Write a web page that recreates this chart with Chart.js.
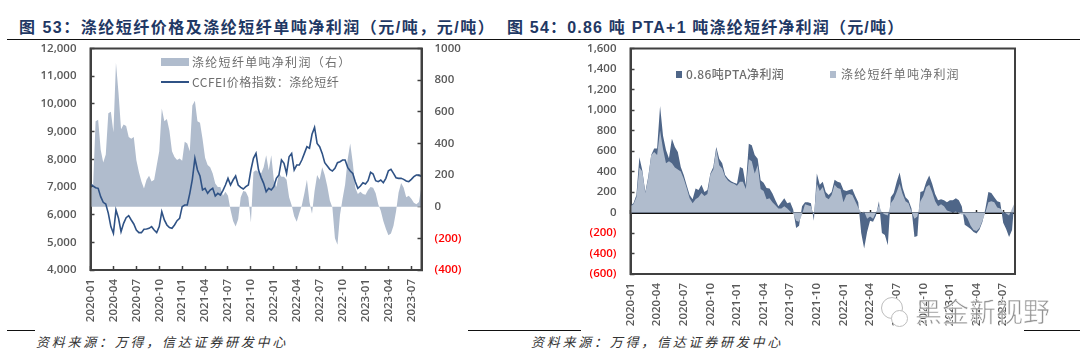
<!DOCTYPE html>
<html lang="zh"><head><meta charset="utf-8">
<script src="https://cdn.jsdelivr.net/npm/chart.js@4/dist/chart.umd.min.js"></script>
<style>
html,body{margin:0;padding:0;background:#fff;width:1080px;height:361px;overflow:hidden}
canvas{position:absolute;top:0}
.t{position:absolute;white-space:nowrap;font-family:"Noto Sans CJK SC","Noto Sans",sans-serif}
.title{top:16px;font-family:"Liberation Sans","Noto Sans CJK SC",sans-serif;font-size:16px;font-weight:700;color:#1f3864;line-height:24px}
.src{top:332px;font-size:13px;font-style:italic;color:#333;letter-spacing:2.75px;line-height:20px}
.leg{font-size:12px;color:#6e6e6e;line-height:16px}
.rule{position:absolute;background:#111;height:1px}
.sw{position:absolute}
.wm{left:915px;top:292px;font-size:27px;line-height:38px;color:#8a8a8a;-webkit-text-stroke:.6px #fff;opacity:.9;letter-spacing:0}
.bub{position:absolute;border:1.5px solid #bdbdbd;border-radius:50%;background:#fff}
</style></head><body>
<div class="t title" style="left:19px;letter-spacing:1.5px">图 53：涤纶短纤价格及涤纶短纤单吨净利润（元/吨，元/吨）</div>
<div class="t title" style="left:507px;letter-spacing:1.2px">图 54：0.86 吨 PTA+1 吨涤纶短纤净利润（元/吨）</div>
<div class="rule" style="left:7px;top:39px;width:1073px"></div>
<div class="rule" style="left:7px;top:330px;width:28px"></div>
<div class="rule" style="left:468px;top:330px;width:113px"></div>
<div class="rule" style="left:1024px;top:330px;width:56px"></div>
<div class="t src" style="left:36px">资料来源：万得，信达证券研发中心</div>
<div class="t src" style="left:531px">资料来源：万得，信达证券研发中心</div>
<canvas id="a" width="500" height="361" style="left:0;width:500px;height:361px"></canvas>
<canvas id="b" width="560" height="361" style="left:500px;width:560px;height:361px"></canvas>
<div class="sw" style="left:161px;top:58px;width:28px;height:8px;background:#b0bccd"></div>
<div class="t leg" style="left:192px;top:54px;letter-spacing:1.3px">涤纶短纤单吨净利润（右）</div>
<div class="sw" style="left:161px;top:81px;width:28px;height:2px;background:#2f5285"></div>
<div class="t leg" style="left:192px;top:74px;letter-spacing:.5px">CCFEI价格指数：涤纶短纤</div>
<div class="sw" style="left:676px;top:71px;width:6px;height:7px;background:#4f6688"></div>
<div class="t leg" style="left:686px;top:66px;font-weight:500;letter-spacing:.4px">0.86吨PTA净利润</div>
<div class="sw" style="left:830px;top:71px;width:6px;height:7px;background:#b0bccd"></div>
<div class="t leg" style="left:841px;top:66px;letter-spacing:1.2px">涤纶短纤单吨净利润</div>
<div class="bub" style="left:881px;top:297px;width:20px;height:20px"></div>
<div class="bub" style="left:891px;top:310px;width:15px;height:15px"></div>
<div class="t wm">黑金新视野</div>
<script>
// ten-day observations, 2020-01 to mid 2023-08
const years = [2020, 2021, 2022, 2023];
const pointsPerMonth = 3;
const tickEvery = 9;
const pointCount = 131;

const fiberProfitLeft = [
120,125,540,550,360,280,330,590,600,470,
910,720,490,520,510,440,430,440,295,220,
160,115,170,195,160,170,260,350,620,540,
555,480,350,315,295,305,290,410,400,350,
640,670,540,530,430,310,263,250,210,147,
125,125,70,95,70,-20,-90,-125,-80,60,
100,95,60,-100,220,230,220,210,250,325,
230,325,170,125,210,190,190,170,60,10,
-60,-95,-40,10,85,170,30,-45,100,200,
170,250,200,130,40,-5,-200,-240,-50,50,
140,300,400,280,120,80,95,80,75,105,
125,120,85,15,-25,-90,-140,-180,-170,-120,
-30,90,150,120,60,70,50,25,15,30,130];

const priceIndex = [
7106,7034,6974,6950,6650,6444,6384,6047,5566,5325,
6168,5867,5385,5686,5890,5963,5807,5662,5446,5350,
5350,5470,5482,5506,5566,5446,5350,5566,6107,5807,
5626,5530,5506,5626,5782,5867,6288,6348,6348,6769,
7274,8032,7611,7395,6889,6949,6769,6889,6949,6672,
6769,6708,6865,7069,7310,7069,7250,7394,7069,6985,
6925,7009,7069,7611,8032,8212,7611,7346,7130,6829,
6949,6889,7009,7310,7430,7972,7851,7490,8092,8212,
7611,7791,7791,7972,8212,8453,8400,8900,9150,8573,
8453,8212,7875,7755,7635,7574,7671,7875,7911,7971,
7971,7707,7574,7490,7190,6949,7033,7153,7105,7226,
7526,7466,7226,7190,7250,7153,7310,7586,7635,7490,
7334,7310,7310,7274,7214,7190,7274,7370,7430,7430,7370];

const fiberProfitRight = [
60,80,150,440,400,190,340,560,590,560,
800,620,480,500,480,440,420,400,330,240,
140,90,130,150,190,160,180,370,420,620,
460,430,350,310,290,280,260,300,300,230,
520,500,380,460,230,210,130,140,100,70,
40,40,60,40,10,-10,-80,-90,-20,80,
70,60,-30,280,210,250,150,130,170,270,
240,230,100,170,180,170,110,50,0,10,
-60,-40,-60,0,70,0,-20,-30,90,130,
200,280,180,110,90,10,-60,-40,110,160,
250,270,200,110,60,80,60,20,10,0,
10,-10,-20,-20,-60,-130,-170,-180,-150,-80,
0,100,110,100,50,40,10,-10,-30,40,100];

const ptaProfit = [
10,10,20,100,10,10,10,0,35,65,
240,130,130,30,240,200,170,45,35,25,
30,40,105,70,80,40,40,10,25,20,
65,50,15,20,15,10,20,145,130,35,
150,155,180,65,85,80,110,95,85,50,
20,60,80,50,90,30,-70,-40,60,20,
30,30,-50,100,60,50,50,40,30,50,
60,60,120,40,40,60,50,50,-200,-350,
-130,-40,-30,-30,40,-200,-200,-290,60,60,
100,110,60,40,30,30,-180,-190,90,50,
50,90,80,70,60,50,60,80,110,120,
130,120,60,-100,-80,-30,-20,-25,-15,-10,
40,100,80,50,60,60,-100,-150,-210,-170,80];

const categories = [];
for (const y of years) for (let m = 1; m <= 12; m++) for (let k = 0; k < pointsPerMonth; k++)
  if (categories.length < pointCount) categories.push(y + '-' + String(m).padStart(2, '0'));

const LIGHT = '#b0bccd', DARK = '#4f6688', LINE = '#2f5285', FRAME = '#404040', GREY = '#595959', RED = '#ff0000';
const tickFont = {family: '"Open Sans"', size: 11.5, weight: '600'};
const fixSize = (w, h) => s => { if (w != null) s.width = w; if (h != null) s.height = h; };
const keepQuarterTicks = s => { s.ticks = s.ticks.filter((t, i) => i % tickEvery === 0); };
const paren = (v, comma) => {
  const a = Math.abs(v), txt = comma ? a.toLocaleString('en-US') : String(a);
  return v < 0 ? '(' + txt + ')' : txt;
};
const tickColor = c => (c.tick && c.tick.value < 0) ? RED : GREY;
const frame = {id: 'frame', afterDraw(ch) {
  const {left, top, width, height} = ch.chartArea, c = ch.ctx;
  c.save(); c.strokeStyle = FRAME; c.lineWidth = 2; c.strokeRect(left, top, width, height); c.restore();
}};
const xBottom = (extra) => Object.assign({
  type: 'category', position: 'bottom',
  afterBuildTicks: keepQuarterTicks,
  afterFit: fixSize(null, 91),
  border: {color: FRAME, width: 2},
  grid: {drawOnChartArea: false, color: FRAME, tickColor: FRAME, tickLength: -4, tickWidth: 1.5},
  ticks: {autoSkip: false, minRotation: 90, maxRotation: 90, padding: 13, color: GREY, font: tickFont}
}, extra);
const base = {responsive: false, animation: false, events: [],
  elements: {point: {radius: 0}, line: {tension: 0}},
  plugins: {legend: {display: false}, tooltip: {enabled: false}}};

new Chart(document.getElementById('a'), {
  type: 'line',
  data: {labels: categories, datasets: [
    {label: 'CCFEI价格指数：涤纶短纤', data: priceIndex, yAxisID: 'y', borderColor: LINE, borderWidth: 1.6, fill: false},
    {label: '涤纶短纤单吨净利润（右）', data: fiberProfitLeft, yAxisID: 'y1', borderWidth: 0, backgroundColor: LIGHT, fill: 'origin'}
  ]},
  options: Object.assign({}, base, {
    layout: {padding: {left: 0, right: 0, top: 48.5, bottom: 0}},
    scales: {
      x: xBottom({}),
      y: {position: 'left', min: 4000, max: 12000, afterFit: fixSize(90.5),
        border: {color: FRAME, width: 2},
        grid: {drawOnChartArea: false, tickColor: FRAME, tickLength: -4, tickWidth: 1.5},
        ticks: {stepSize: 1000, padding: 18, color: GREY, font: tickFont, callback: v => paren(v, true)}},
      y1: {position: 'right', min: -400, max: 1000, afterFit: fixSize(78.5),
        border: {color: FRAME, width: 2},
        grid: {drawOnChartArea: false, tickColor: FRAME, tickLength: -4, tickWidth: 1.5},
        ticks: {stepSize: 200, padding: 17, color: tickColor, font: tickFont, callback: v => paren(v, false)}}
    }
  }),
  plugins: [frame]
});

new Chart(document.getElementById('b'), {
  type: 'line',
  data: {labels: categories, datasets: [
    {label: '涤纶短纤单吨净利润', data: fiberProfitRight, borderWidth: 0, backgroundColor: LIGHT, fill: 'origin'},
    {label: '0.86吨PTA净利润', data: ptaProfit, borderWidth: 0, backgroundColor: DARK, fill: 'origin'}
  ]},
  options: Object.assign({}, base, {
    layout: {padding: {left: 0, right: 45, top: 48.5, bottom: 0}},
    scales: {
      x: xBottom({
        afterFit: fixSize(null, 87),
        grid: {drawOnChartArea: false, drawTicks: false},
        ticks: {autoSkip: false, minRotation: 90, maxRotation: 90, padding: 9, color: GREY, font: tickFont}
      }),
      x0: {type: 'category', axis: 'x', labels: categories, position: {y: 0}, z: 2,
        afterBuildTicks: keepQuarterTicks,
        border: {color: '#111', width: 2},
        grid: {drawOnChartArea: false, tickColor: '#222', tickLength: -4, tickWidth: 1.5},
        ticks: {display: false}},
      y: {position: 'left', stacked: true, min: -600, max: 1600, afterFit: fixSize(130.5),
        border: {color: FRAME, width: 2},
        grid: {drawOnChartArea: false, tickColor: FRAME, tickLength: -4, tickWidth: 1.5},
        ticks: {stepSize: 200, padding: 18, color: tickColor, font: tickFont, callback: v => paren(v, true)}}
    }
  }),
  plugins: [frame]
});
</script>
</body></html>
